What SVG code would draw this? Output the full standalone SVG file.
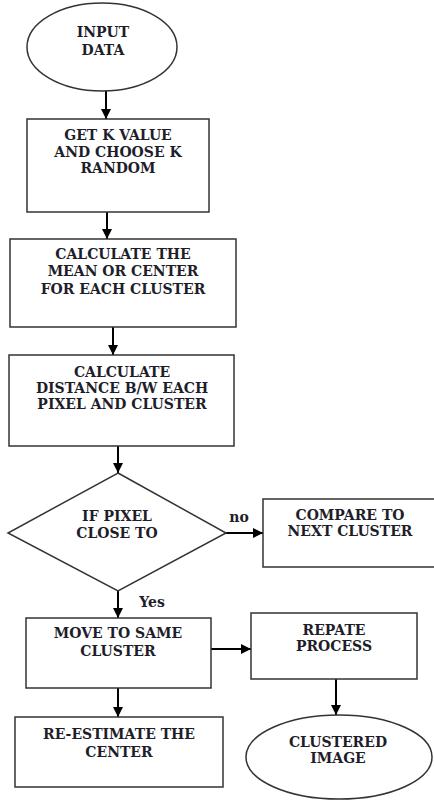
<svg xmlns="http://www.w3.org/2000/svg" width="434" height="801" viewBox="0 0 434 801">
<defs>
<marker id="ah" viewBox="0 0 10 10" refX="10" refY="5" markerWidth="10" markerHeight="10" markerUnits="userSpaceOnUse" orient="auto">
<path d="M0,0 L10,5 L0,10 Z" fill="#000"/>
</marker>
</defs>
<style>
.shape{fill:#fff;stroke:#333;stroke-width:1.5}
.t{font-family:"DejaVu Serif","Liberation Serif",serif;font-weight:bold;font-size:14px;fill:#1e1e2a;text-anchor:middle}
.c{stroke:#000;stroke-width:2;fill:none;marker-end:url(#ah)}
</style>
<rect width="434" height="801" fill="#fff"/>
<g id="connectors">
<line class="c" x1="106" y1="90" x2="106" y2="119"/>
<line class="c" x1="107" y1="212" x2="107" y2="239"/>
<line class="c" x1="113" y1="327" x2="113" y2="355"/>
<line class="c" x1="118" y1="446" x2="118" y2="473"/>
<line class="c" x1="226" y1="533" x2="263" y2="533"/>
<line class="c" x1="118" y1="591" x2="118" y2="618"/>
<line class="c" x1="211" y1="649" x2="251" y2="649"/>
<line class="c" x1="118" y1="688" x2="118" y2="717"/>
<line class="c" x1="336" y1="679" x2="336" y2="715"/>
<text class="t" x="239" y="522">no</text>
<text class="t" x="152" y="607">Yes</text>
</g>
<g id="input">
<ellipse class="shape" cx="102" cy="47" rx="75" ry="44"/>
<text class="t" x="103" y="37">INPUT</text>
<text class="t" x="103" y="55">DATA</text>
</g>
<g id="getk">
<rect class="shape" x="27" y="119" width="182" height="93"/>
<text class="t" x="118" y="140">GET K VALUE</text>
<text class="t" x="118" y="157">AND CHOOSE K</text>
<text class="t" x="118" y="173">RANDOM</text>
</g>
<g id="mean">
<rect class="shape" x="10" y="239" width="226" height="88"/>
<text class="t" x="123" y="259">CALCULATE THE</text>
<text class="t" x="123" y="276">MEAN OR CENTER</text>
<text class="t" x="123" y="294">FOR EACH CLUSTER</text>
</g>
<g id="distance">
<rect class="shape" x="9" y="355" width="225" height="91"/>
<text class="t" x="122" y="377">CALCULATE</text>
<text class="t" x="122" y="393">DISTANCE B/W EACH</text>
<text class="t" x="122" y="409">PIXEL AND CLUSTER</text>
</g>
<g id="decision">
<polygon class="shape" points="118,473 226,533 118,591 8,533"/>
<text class="t" x="117" y="521">IF PIXEL</text>
<text class="t" x="117" y="538">CLOSE TO</text>
</g>
<g id="compare">
<rect class="shape" x="263" y="499" width="172" height="68"/>
<text class="t" x="350" y="520">COMPARE TO</text>
<text class="t" x="350" y="536">NEXT CLUSTER</text>
</g>
<g id="move">
<rect class="shape" x="26" y="618" width="185" height="70"/>
<text class="t" x="118" y="638">MOVE TO SAME</text>
<text class="t" x="118" y="656">CLUSTER</text>
</g>
<g id="repate">
<rect class="shape" x="251" y="613" width="166" height="66"/>
<text class="t" x="334" y="635">REPATE</text>
<text class="t" x="334" y="651">PROCESS</text>
</g>
<g id="reestimate">
<rect class="shape" x="15" y="717" width="208" height="70"/>
<text class="t" x="119" y="739">RE-ESTIMATE THE</text>
<text class="t" x="119" y="757">CENTER</text>
</g>
<g id="clustered">
<ellipse class="shape" cx="339" cy="757" rx="93" ry="42"/>
<text class="t" x="338" y="747">CLUSTERED</text>
<text class="t" x="338" y="763">IMAGE</text>
</g>
</svg>
